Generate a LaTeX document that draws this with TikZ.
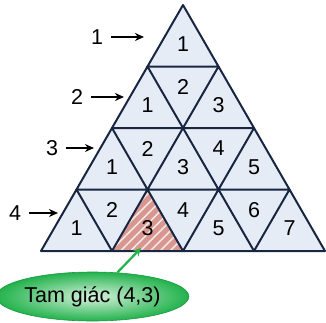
\documentclass[tikz,border=0pt]{standalone}
\usepackage{fontspec}
\setmainfont{Liberation Sans}
\usetikzlibrary{arrows.meta, calc, positioning, patterns.meta, shapes.geometric}
\definecolor{cellBlue}{RGB}{230,236,246}
\definecolor{edgeNavy}{RGB}{24,38,66}
\definecolor{pickRed}{RGB}{216,150,144}
\definecolor{tagGreen}{RGB}{34,178,76}
\definecolor{tagLight}{RGB}{214,242,220}

\begin{document}
\begin{tikzpicture}[x=1pt, y=-1pt, >=Stealth, font=\fontsize{21.5}{24}\selectfont]
    \useasboundingbox (0,0) rectangle (326,322);

    % Grid points (row r, position i)
    \foreach \r in {0,...,4}
        \foreach \i in {0,...,\r}
            \coordinate (v\r\i) at ({183+(2*\i-\r)*35.5}, {5+61.5*\r});

    % Cells
    \fill[cellBlue] (v00) -- (v40) -- (v44) -- cycle;
    \fill[pickRed] (v31) -- (v41) -- (v42) -- cycle;
    \fill[pattern={Lines[angle=45, distance=7pt, line width=1.6pt]}, pattern color=white!75!pickRed]
        (v31) -- (v41) -- (v42) -- cycle;
    \foreach \r in {0,...,3}
        \foreach \i in {0,...,\r} {
            \pgfmathtruncatemacro\n{\r+1}
            \pgfmathtruncatemacro\j{\i+1}
            \draw[edgeNavy, line width=2pt, line join=round] (v\r\i) -- (v\n\i) -- (v\n\j) -- cycle;
        }

    % Numbers in the cells
    \foreach \k in {1,...,4} {
        \pgfmathtruncatemacro\p{\k-1}
        \foreach \m in {0,...,\p} {
            \pgfmathtruncatemacro\q{\m+1}
            \pgfmathtruncatemacro\lab{2*\m+1}
            \node (c\k-\lab) at ($1/3*(v\p\m)+1/3*(v\k\m)+1/3*(v\k\q)+(0,-2)$) {\lab};
        }
        \ifnum\k>1
            \foreach \m in {1,...,\p} {
                \pgfmathtruncatemacro\s{\m-1}
                \pgfmathtruncatemacro\lab{2*\m}
                \node (c\k-\lab) at ($1/3*(v\p\s)+1/3*(v\p\m)+1/3*(v\k\m)$) {\lab};
            }
        \fi
    }

    % Row labels
    \node (row1) at (97,37) {1};
    \node (row2) at (77,97) {2};
    \node (row3) at (52,148) {3};
    \node (row4) at (15,213) {4};
    \coordinate (tip1) at (144,37);
    \coordinate (tip2) at (124,97);
    \coordinate (tip3) at (94,148);
    \coordinate (tip4) at (58,213);
    \foreach \k in {1,...,4}
        \draw[->, line width=2.6pt, arrows={-Stealth[length=9pt, width=8pt]}] (row\k) ++(14,0) -- (tip\k);

    % Callout
    \node[ellipse, minimum width=181pt, minimum height=49pt, inner sep=0pt,
          inner color=tagLight, outer color=tagGreen, draw=tagGreen!85!black, line width=0.6pt]
        (tag) at (92.5,296.5) {Tam giác (4,3)};
    \coordinate (hit) at (141,248);
    \draw[->, tagGreen, line width=2.2pt, arrows={-Stealth[length=8pt, width=8pt]}] (tag.44) -- (hit);
\end{tikzpicture}
\end{document}
